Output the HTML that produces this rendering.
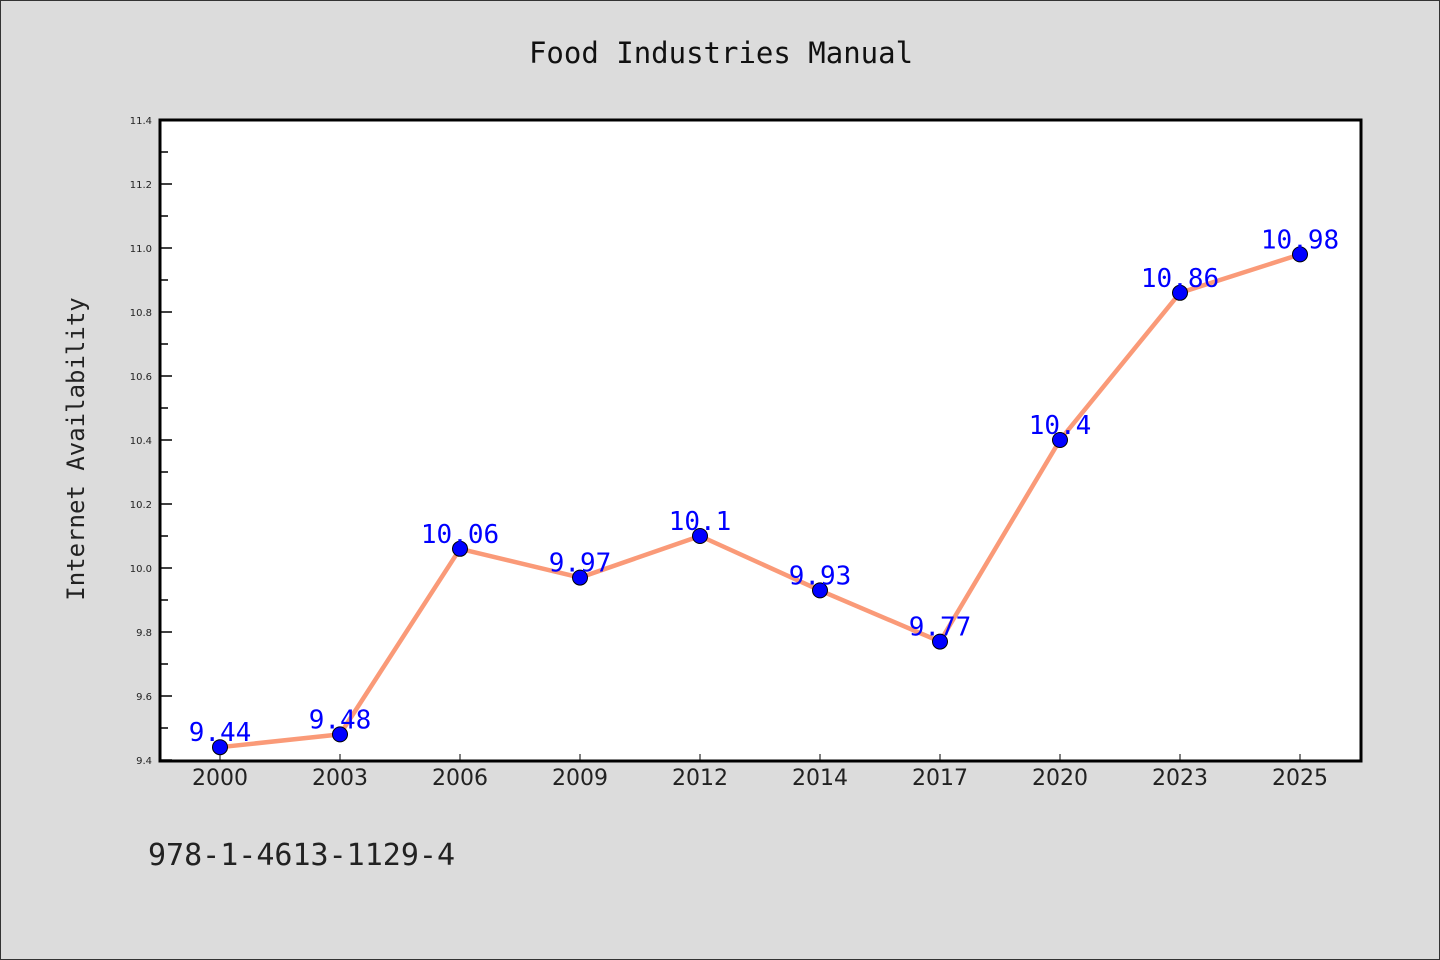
<!DOCTYPE html>
<html><head><meta charset="utf-8"><style>
body{margin:0;background:#dcdcdc;}
svg{display:block;font-family:"DejaVu Sans","Liberation Sans",sans-serif;}
.mono{font-family:"DejaVu Sans Mono","Liberation Mono",monospace;}
</style></head><body>
<svg id="chart" width="1440" height="960" viewBox="0 0 1440 960">
<rect x="0.5" y="0.5" width="1439" height="959" fill="#dcdcdc" stroke="#333"/>
<text class="mono" x="721" y="63" text-anchor="middle" font-size="29" fill="#111">Food Industries Manual</text>
<rect x="160" y="120" width="1201" height="641" fill="#fff"/>
<g id="yaxis"></g>
<g id="xaxis"></g>
<g id="series"></g>
<rect x="160" y="120" width="1201" height="641" fill="none" stroke="#000" stroke-width="3"/>
<text class="mono" transform="translate(84,449) rotate(-90)" text-anchor="middle" font-size="24" fill="#222">Internet Availability</text>
<text class="mono" x="148" y="865" font-size="30" fill="#222">978-1-4613-1129-4</text>
</svg>
<script>
const categories=["2000","2003","2006","2009","2012","2014","2017","2020","2023","2025"];
const values=[9.44,9.48,10.06,9.97,10.1,9.93,9.77,10.4,10.86,10.98];
const yTicks=["9.4","9.6","9.8","10.0","10.2","10.4","10.6","10.8","11.0","11.2","11.4"];
const NS="http://www.w3.org/2000/svg";
const yMin=9.4,yMax=11.4,yTop=120,yBot=760,xLeft=160;
function sy(v){return yBot-(v-yMin)/(yMax-yMin)*(yBot-yTop);}
function sx(i){return 220+i*120;}
function mk(tag,attrs,parent){const e=document.createElementNS(NS,tag);for(const k in attrs)e.setAttribute(k,attrs[k]);parent.appendChild(e);return e;}
const ya=document.getElementById('yaxis'),xa=document.getElementById('xaxis'),se=document.getElementById('series');
yTicks.forEach((t,i)=>{const v=parseFloat(t),yy=sy(v);
 const l=mk('line',{x1:xLeft,x2:xLeft+12,y1:yy,y2:yy,stroke:'#000','stroke-width':1.5},ya);
 
 
 const tx=mk('text',{x:152,y:yy+4,'text-anchor':'end','font-size':10,fill:'#222'},ya);tx.textContent=t;
 
 
 if(i<yTicks.length-1){const ym=sy(v+0.1);const m=mk('line',{x1:xLeft,x2:xLeft+8,y1:ym,y2:ym,stroke:'#000','stroke-width':1.5},ya);
 
 }
});
categories.forEach((c,i)=>{const xx=sx(i);
 const l=mk('line',{x1:xx,x2:xx,y1:yBot-6,y2:yBot+2,stroke:'#000','stroke-width':1},xa);
 
 
 const t=mk('text',{x:xx,y:785,'text-anchor':'middle','font-size':22,fill:'#222'},xa);t.textContent=c;
 
 
});
const pts=values.map((v,i)=>sx(i)+','+sy(v)).join(' ');
const pl=mk('polyline',{points:pts,fill:'none',stroke:'#fa9a78','stroke-width':4.5,'stroke-linejoin':'round'},se);


values.forEach((v,i)=>{
 const c=mk('circle',{cx:sx(i),cy:sy(v),r:7.5,fill:'#0000ff',stroke:'#000','stroke-width':1},se);
 
 
 const t=mk('text',{x:sx(i),y:sy(v)-6,'text-anchor':'middle','font-size':26,fill:'#0000ff','class':'mono'},se);t.textContent=String(v);
 
 
});
</script>
</body></html>
